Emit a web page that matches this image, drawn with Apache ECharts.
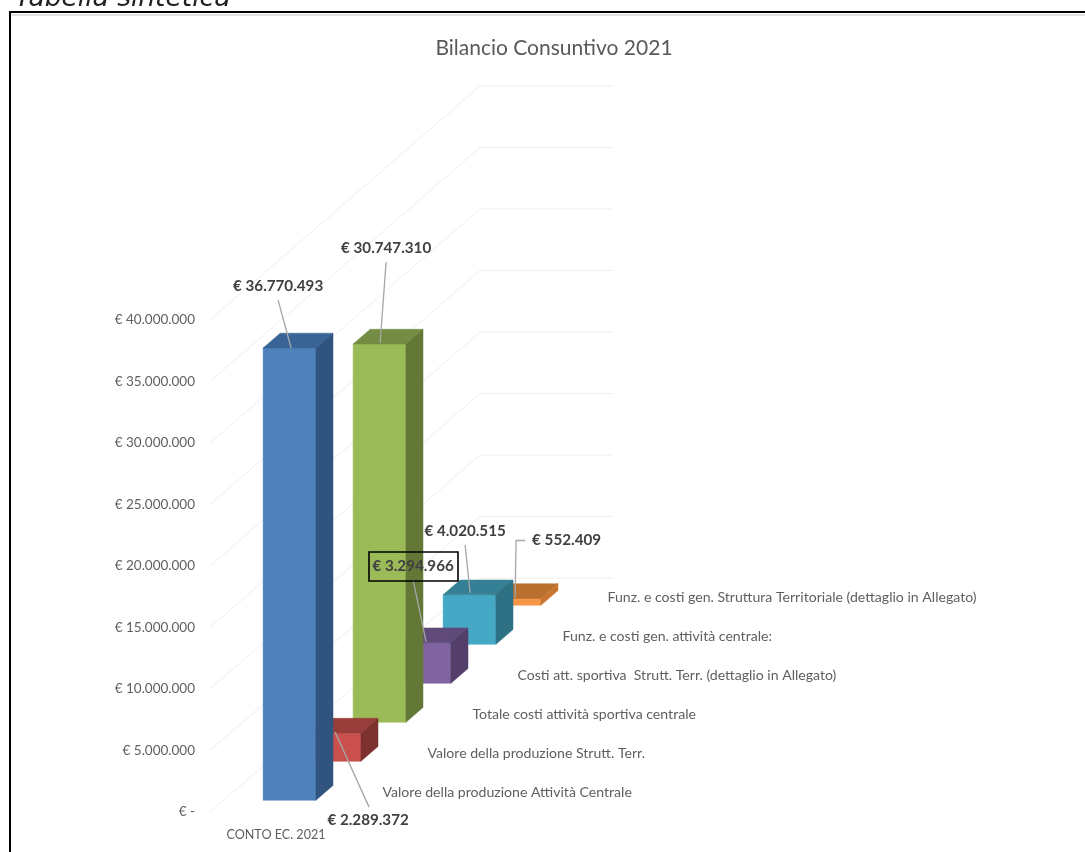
<!DOCTYPE html>
<html><head><meta charset="utf-8">
<style>html,body{margin:0;padding:0;background:#fff;overflow:hidden}#c{width:1085px;height:852px}</style>
<script src="https://cdn.jsdelivr.net/npm/echarts@6/dist/echarts.min.js"></script>
</head><body><div id="c"></div>
<script>
// ---- data ----
const titleText = 'Bilancio Consuntivo 2021';
const headingText = 'Tabella sintetica';
const categories = ['CONTO EC. 2021'];
const seriesNames = [
  'Valore della produzione Attività Centrale',
  'Valore della produzione Strutt. Terr.',
  'Totale costi attività sportiva centrale',
  'Costi att. sportiva  Strutt. Terr. (dettaglio in Allegato)',
  'Funz. e costi gen. attività centrale:',
  'Funz. e costi gen. Struttura Territoriale (dettaglio in Allegato)'
];
const seriesValues = [36770493, 2289372, 30747310, 3294966, 4020515, 552409];
const ticks = [0, 5000000, 10000000, 15000000, 20000000, 25000000, 30000000, 35000000, 40000000];

// ---- styling / layout ----
const faces = [
  ['#4f81bd', '#3b6496', '#30547f'],
  ['#c9504c', '#983d3a', '#7e3230'],
  ['#9bbb59', '#748c43', '#637837'],
  ['#8064a2', '#5f4a79', '#533f69'],
  ['#45a9c6', '#358094', '#2e7084'],
  ['#f79646', '#b9702f', '#c9752f']
];
const DX = 45, DY = 39;            // screen shift per depth row
const NEAR = 0.3, FAR = 0.68;      // box extent inside a depth row
const BAR = 0.4;                   // bar width as part of the band
const FONT = 'Lato';
// label centre and leader, relative to each bar's top-front-left corner
const callouts = [
  {lx: 15, ly: -62, line: [[15, -48], [28, 0]]},
  {lx: 60, ly: 87, line: [[27, -1], [61, 74]]},
  {lx: 33, ly: -96, line: [[33, -82], [27, -1]]},
  {lx: 15, ly: -77, line: [[15, -63], [28, -1]]},
  {lx: 22, ly: -64, line: [[22, -50], [27, -2]]},
  {lx: 44, ly: -58, left: true, line: [[37, -58], [28, -58], [27, -1]]}
];

function corner(api, value, depth, side, part) {
  const band = api.size([1, 0])[0];
  const c = api.coord([0, value]);
  return [c[0] + side * band * part / 2 + depth * DX, c[1] - depth * DY];
}
function poly(points, fill) {
  return {type: 'polygon', shape: {points}, style: {fill, stroke: fill, lineWidth: 0.5}};
}
function barSeries(i) {
  return {
    type: 'custom', name: seriesNames[i], coordinateSystem: 'cartesian2d', clip: false,
    z: 20 - i, data: [[0, seriesValues[i]]],
    renderItem(params, api) {
      const v = api.value(1), n = i + NEAR, f = i + FAR;
      const a = corner(api, v, n, -1, BAR), b = corner(api, v, n, 1, BAR),
            c = corner(api, 0, n, 1, BAR), d = corner(api, 0, n, -1, BAR),
            e = corner(api, v, f, -1, BAR), g = corner(api, v, f, 1, BAR), h = corner(api, 0, f, 1, BAR);
      return {type: 'group', children: [
        poly([a, b, c, d], faces[i][0]),
        poly([a, b, g, e], faces[i][1]),
        poly([b, g, h, c], faces[i][2])
      ]};
    }
  };
}
const gridSeries = {
  type: 'custom', coordinateSystem: 'cartesian2d', clip: false, z: 1,
  data: ticks.map(t => [0, t]),
  renderItem(params, api) {
    const v = api.value(1), n = seriesNames.length;
    return {type: 'polyline', shape: {points: [corner(api, v, 0, -1, 1), corner(api, v, n, -1, 1), corner(api, v, n, 1, 1)]},
      style: {stroke: '#eeeeee', lineWidth: 1, fill: null}};
  }
};
const depthLabelSeries = {
  type: 'custom', coordinateSystem: 'cartesian2d', clip: false, z: 5,
  data: seriesNames.map((s, i) => [0, 0, i]),
  renderItem(params, api) {
    const i = api.value(2), p = corner(api, 0, i + 0.5, 1, 1);
    return {type: 'text', style: {x: p[0] + 18, y: p[1], text: seriesNames[i], fill: '#5f5f5f',
      font: '14.1px ' + FONT, textAlign: 'left', textVerticalAlign: 'middle'}};
  }
};
const calloutSeries = {
  type: 'custom', coordinateSystem: 'cartesian2d', clip: false, z: 40,
  data: seriesValues.map((v, i) => [0, v, i]),
  renderItem(params, api) {
    const i = api.value(2), o = callouts[i], p = corner(api, api.value(1), i + NEAR, -1, BAR);
    const at = q => [p[0] + q[0], p[1] + q[1]];
    return {type: 'group', children: [
      {type: 'polyline', shape: {points: o.line.map(at)}, style: {stroke: '#a6a6a6', lineWidth: 1.3, fill: null}},
      {type: 'text', style: {x: p[0] + o.lx, y: p[1] + o.ly, text: fmt(api.value(1)), fill: '#404040',
        font: 'bold 15.2px ' + FONT, textAlign: o.left ? 'left' : 'center', textVerticalAlign: 'middle'}}
    ]};
  }
};
function fmt(v) {
  if (v === 0) return '€ -';
  return '€ ' + String(Math.round(v)).replace(/\B(?=(\d{3})+(?!\d))/g, '.');
}

const chart = echarts.init(document.getElementById('c'), null, {renderer: 'canvas'});
chart.setOption({
  animation: false,
  backgroundColor: '#fff',
  title: {text: titleText, left: 549, top: 33, textAlign: 'center',
    textStyle: {color: '#595959', fontFamily: FONT, fontWeight: 'normal', fontSize: 21}},
  grid: {left: 210, top: 320, width: 132, height: 492, containLabel: false},
  xAxis: {type: 'category', data: categories, axisLine: {show: false}, axisTick: {show: false},
    axisLabel: {color: '#5f5f5f', fontFamily: FONT, fontSize: 12.6, margin: 16}},
  yAxis: {type: 'value', min: 0, max: 40000000, interval: 5000000, splitLine: {show: false},
    axisLine: {show: false}, axisTick: {show: false},
    axisLabel: {color: '#5f5f5f', fontFamily: FONT, fontSize: 13.5, margin: 15, padding: [2, 0, 0, 0], formatter: fmt}},
  graphic: [
    {type: 'rect', x: 11, y: 14, shape: {width: 1200, height: 2}, z: 1, style: {fill: '#e2e2e2'}},
    {type: 'rect', x: 10, y: 12, shape: {width: 1200, height: 1000}, z: 0,
      style: {fill: '#fff', stroke: '#000', lineWidth: 2}},
    {type: 'text', x: 15, y: 13, z: 0, style: {text: headingText, fill: '#222',
      font: 'italic 26.5px "DejaVu Sans"', textVerticalAlign: 'bottom'}},
    {type: 'rect', x: 369, y: 552, shape: {width: 89, height: 29}, z: 100,
      style: {fill: 'transparent', stroke: '#000', lineWidth: 1.6}}
  ],
  series: [gridSeries, depthLabelSeries].concat(seriesNames.map((s, i) => barSeries(i)), [calloutSeries])
});
</script></body></html>
